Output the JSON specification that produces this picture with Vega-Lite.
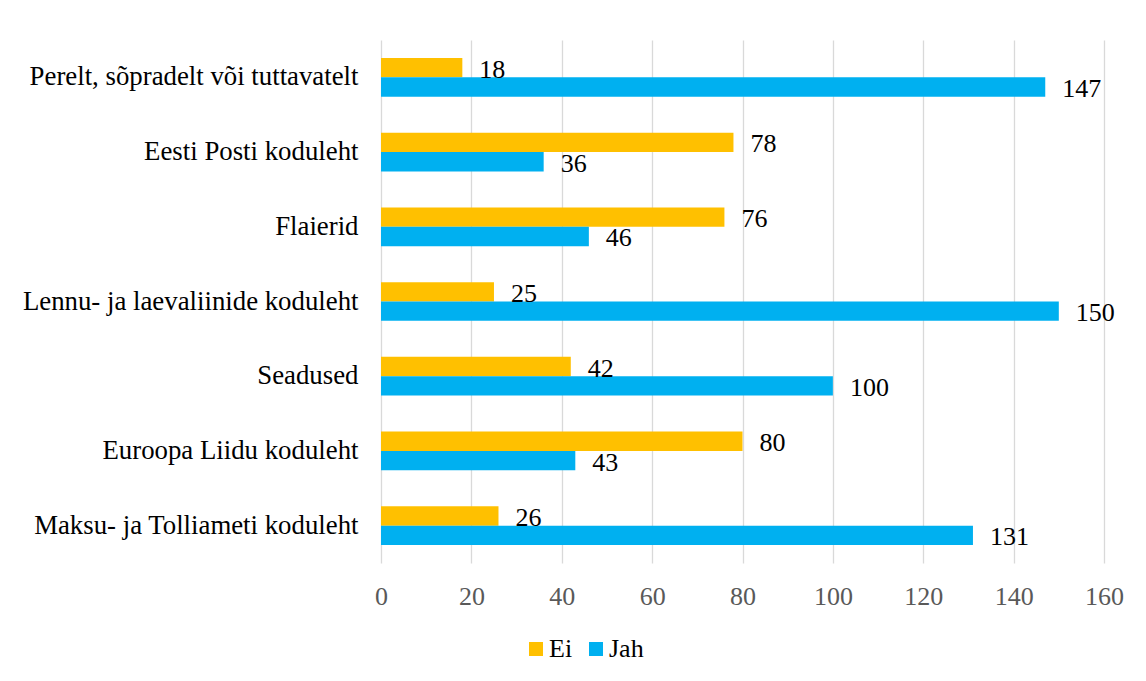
{
  "$schema": "https://vega.github.io/schema/vega-lite/v6.json",
  "autosize": {"type": "none"},
  "width": 723,
  "height": 523,
  "padding": {"left": 381, "top": 40, "right": 42, "bottom": 118},
  "background": "white",
  "data": {
    "values": [
      {"kanal": "Perelt, sõpradelt või tuttavatelt", "vastus": "Ei", "arv": 18},
      {"kanal": "Perelt, sõpradelt või tuttavatelt", "vastus": "Jah", "arv": 147},
      {"kanal": "Eesti Posti koduleht", "vastus": "Ei", "arv": 78},
      {"kanal": "Eesti Posti koduleht", "vastus": "Jah", "arv": 36},
      {"kanal": "Flaierid", "vastus": "Ei", "arv": 76},
      {"kanal": "Flaierid", "vastus": "Jah", "arv": 46},
      {"kanal": "Lennu- ja laevaliinide koduleht", "vastus": "Ei", "arv": 25},
      {"kanal": "Lennu- ja laevaliinide koduleht", "vastus": "Jah", "arv": 150},
      {"kanal": "Seadused", "vastus": "Ei", "arv": 42},
      {"kanal": "Seadused", "vastus": "Jah", "arv": 100},
      {"kanal": "Euroopa Liidu koduleht", "vastus": "Ei", "arv": 80},
      {"kanal": "Euroopa Liidu koduleht", "vastus": "Jah", "arv": 43},
      {"kanal": "Maksu- ja Tolliameti koduleht", "vastus": "Ei", "arv": 26},
      {"kanal": "Maksu- ja Tolliameti koduleht", "vastus": "Jah", "arv": 131}
    ]
  },
  "encoding": {
    "y": {
      "field": "kanal",
      "type": "nominal",
      "sort": null,
      "scale": {"paddingInner": 0.482, "paddingOuter": 0.241},
      "axis": {
        "title": null,
        "domain": false,
        "ticks": false,
        "labelPadding": 23,
        "labelFont": "Liberation Serif",
        "labelFontSize": 26.8,
        "labelColor": "#000000",
        "labelLimit": 400
      }
    },
    "yOffset": {"field": "vastus", "type": "nominal", "sort": ["Ei", "Jah"]},
    "x": {
      "field": "arv",
      "type": "quantitative",
      "scale": {"domain": [0, 160], "nice": false},
      "axis": {
        "title": null,
        "values": [0, 20, 40, 60, 80, 100, 120, 140, 160],
        "domain": false,
        "ticks": false,
        "grid": true,
        "gridColor": "#D9D9D9",
        "gridWidth": 1.3,
        "labelFlush": false,
        "labelPadding": 20,
        "labelFont": "Liberation Serif",
        "labelFontSize": 26,
        "labelColor": "#595959"
      }
    }
  },
  "layer": [
    {
      "mark": {"type": "bar"},
      "encoding": {
        "color": {
          "field": "vastus",
          "type": "nominal",
          "sort": ["Ei", "Jah"],
          "scale": {"domain": ["Ei", "Jah"], "range": ["#FFC000", "#00B0F0"]},
          "legend": {
            "title": null,
            "orient": "none",
            "direction": "horizontal",
            "legendX": 142,
            "legendY": 596,
            "padding": 0,
            "symbolType": "square",
            "symbolSize": 196,
            "symbolStrokeWidth": 0,
            "labelFont": "Liberation Serif",
            "labelFontSize": 26,
            "labelColor": "#000000",
            "labelOffset": 0,
            "columnPadding": 10
          }
        }
      }
    },
    {
      "mark": {
        "type": "text",
        "align": "left",
        "baseline": "middle",
        "dx": 17,
        "dy": 2,
        "font": "Liberation Serif",
        "fontSize": 26,
        "color": "#000000"
      },
      "encoding": {
        "text": {"field": "arv", "type": "quantitative"}
      }
    }
  ],
  "config": {"view": {"stroke": null}}
}
